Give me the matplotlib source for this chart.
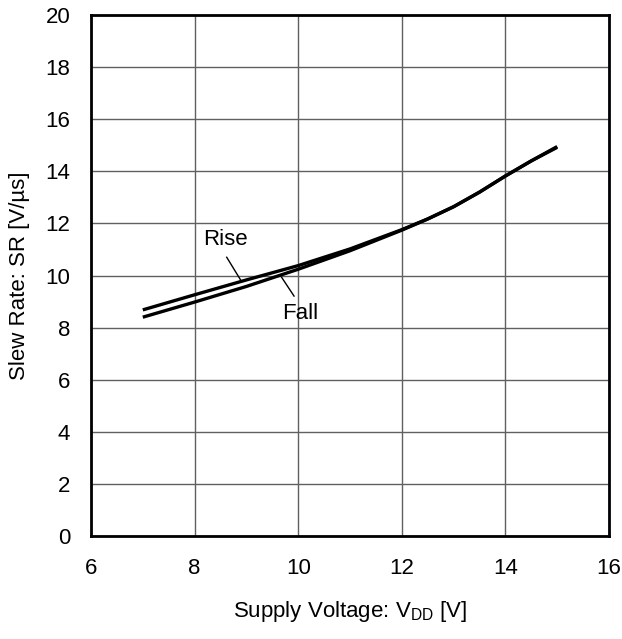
import matplotlib.pyplot as plt
import numpy as np

plt.rcParams['font.family'] = ['Liberation Sans', 'DejaVu Sans']
plt.rcParams['mathtext.fontset'] = 'custom'
plt.rcParams['mathtext.rm'] = 'Liberation Sans'

vdd = [7, 8, 9, 10, 11, 12, 12.5, 13, 13.5, 14, 14.5, 15]
sr_rise = [8.68, 9.26, 9.83, 10.38, 11.02, 11.76, 12.17, 12.64, 13.2, 13.82, 14.4, 14.95]
sr_fall = [8.40, 8.98, 9.58, 10.24, 10.95, 11.74, 12.17, 12.64, 13.2, 13.82, 14.4, 14.92]

# leader lines for the labels
rise_lead = ([8.62, 8.90], [10.70, 9.79])
fall_lead = ([9.68, 9.92], [9.93, 9.21])

fs = 16

fig = plt.figure(figsize=(6.22, 6.39), dpi=100)
ax = fig.add_axes([91 / 622, 103 / 639, 518 / 622, 521 / 639])

ax.plot(vdd, sr_rise, 'k-', lw=2.4, solid_capstyle='butt', zorder=3)
ax.plot(vdd, sr_fall, 'k-', lw=2.4, solid_capstyle='butt', zorder=3)
ax.plot(*rise_lead, 'k-', lw=1, zorder=3)
ax.plot(*fall_lead, 'k-', lw=1, zorder=3)

ax.text(8.59, 11.17, 'Rise', fontsize=fs, ha='center', va='baseline')
ax.text(10.03, 8.32, 'Fall', fontsize=fs, ha='center', va='baseline')

ax.set_xlim(6, 16)
ax.set_ylim(0, 20)
ax.set_xticks(np.arange(6, 17, 2))
ax.set_yticks(np.arange(0, 21, 2))
ax.grid(True, color='#606060', lw=1)
ax.tick_params(length=0, labelsize=fs)
ax.tick_params(axis='x', pad=16)
ax.tick_params(axis='y', pad=15)
for s in ax.spines.values():
	s.set_linewidth(2)
	s.set_color('k')
	s.set_zorder(4)

ax.set_xlabel('Supply Voltage: V$_{\\rm DD}$ [V]', fontsize=fs, va='center')
ax.set_ylabel('Slew Rate: SR [V/\u00b5s]', fontsize=fs, va='center')
ax.xaxis.set_label_coords(0.5, (536 - 612) / 521)
ax.yaxis.set_label_coords((20 - 91) / 518, 0.5)

fig.savefig('out.png', dpi=100)
